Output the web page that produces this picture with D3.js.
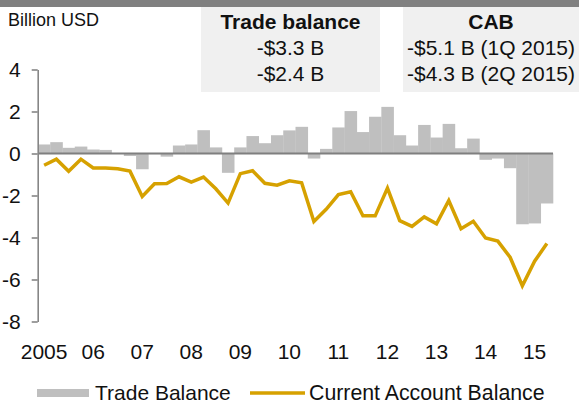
<!DOCTYPE html>
<html>
<head>
<meta charset="utf-8">
<script src="https://cdn.jsdelivr.net/npm/d3@7/dist/d3.min.js"></script>
<style>
  body { margin: 0; background: #fff; }
  svg { display: block; font-family: "Liberation Sans", Arial, sans-serif; }
</style>
</head>
<body>
<svg id="chart" width="579" height="405"></svg>
<script>
// quarterly data, 2005 Q1 .. 2015 Q2 (billion USD)
const years = ['2005', '06', '07', '08', '09', '10', '11', '12', '13', '14', '15']
const quarters = []
years.forEach((y, i) => {
    const n = i === years.length - 1 ? 2 : 4
    for (let q = 1; q <= n; q++) quarters.push(y + 'Q' + q)
})

const tradeBalance = [0.43, 0.54, 0.27, 0.33, 0.19, 0.17, 0.02, -0.12, -0.75, -0.03, -0.15,
    0.38, 0.43, 1.11, 0.29, -0.92, 0.29, 0.83, 0.49, 0.87, 1.10, 1.27, -0.24, 0.22,
    1.24, 2.02, 1.02, 1.75, 2.22, 0.87, 0.38, 1.36, 0.76, 1.41, 0.25, 0.71, -0.30,
    -0.24, -0.70, -3.37, -3.33, -2.38]

const currentAccount = [-0.56, -0.27, -0.85, -0.27, -0.69, -0.69, -0.73, -0.84, -2.05, -1.44,
    -1.43, -1.11, -1.36, -1.12, -1.68, -2.36, -0.96, -0.82, -1.42, -1.51, -1.30, -1.39,
    -3.24, -2.66, -1.96, -1.82, -2.97, -2.97, -1.65, -3.20, -3.47, -3.02, -3.35, -2.24,
    -3.58, -3.23, -4.02, -4.17, -4.94, -6.30, -5.13, -4.29]

const yTicks = [4, 2, 0, -2, -4, -6, -8]

const tradeBox = ['Trade balance', '-$3.3 B', '-$2.4 B']
const cabBox = ['CAB', '-$5.1 B (1Q 2015)', '-$4.3 B (2Q 2015)']

const legendItems = ['Trade Balance', 'Current Account Balance']

const barColor = '#bfbfbf'
const lineColor = '#d6a100'
const axisColor = '#868686'

const svg = d3.select('#chart')

// scales
const x = d3.scaleBand().domain(quarters).range([38, 553]).padding(0)
const y = d3.scaleLinear().domain([-8, 4]).range([321.5, 69.5])
const bw = x.bandwidth()

// top band
svg.append('rect')
    .attr('x', 0).attr('y', 0)
    .attr('width', 579).attr('height', 7)
    .attr('fill', '#808080')

// info boxes
const drawBox = (lines, x0, x1) => {
    svg.append('rect')
        .attr('x', x0).attr('y', 7)
        .attr('width', x1 - x0).attr('height', 85)
        .attr('fill', '#f0f0f0')
    svg.selectAll(null)
        .data(lines)
        .enter()
        .append('text')
        .attr('x', (x0 + x1) / 2)
        .attr('y', (d, i) => 28.5 + i * 26.3)
        .attr('text-anchor', 'middle')
        .attr('font-size', 21)
        .attr('font-weight', (d, i) => i === 0 ? 'bold' : 'normal')
        .attr('fill', '#111')
        .text(d => d)
}
drawBox(tradeBox, 201, 380)
drawBox(cabBox, 403, 579)

svg.append('text')
    .attr('x', 8).attr('y', 26)
    .attr('font-size', 18)
    .attr('fill', '#111')
    .text('Billion USD')

// bars
svg.selectAll('.bar')
    .data(tradeBalance)
    .enter()
    .append('rect')
    .attr('class', 'bar')
    .attr('x', (d, i) => x(quarters[i]))
    .attr('y', d => y(Math.max(0, d)))
    .attr('width', bw + 0.3)
    .attr('height', d => Math.abs(y(d) - y(0)))
    .attr('fill', barColor)

// zero line
svg.append('line')
    .attr('x1', 38).attr('x2', 553)
    .attr('y1', y(0)).attr('y2', y(0))
    .attr('stroke', '#7f7f7f')
    .attr('stroke-width', 2)

// y axis
const yAxis = svg.append('g')
    .attr('transform', 'translate(37.7,0)')
    .call(d3.axisLeft(y).tickValues(yTicks).tickSize(6).tickSizeOuter(0).tickPadding(11)
        .tickFormat(d3.format('d')))
yAxis.select('.domain').attr('stroke', axisColor).attr('stroke-width', 1.6)
yAxis.selectAll('.tick line').attr('stroke', axisColor).attr('stroke-width', 1.6)
yAxis.selectAll('.tick text')
    .attr('font-size', 21)
    .attr('font-family', '"Liberation Sans", Arial, sans-serif')
    .attr('fill', '#111')
    .text(d => d < 0 ? '-' + Math.abs(d) : d)

// current account line
const line = d3.line()
    .x((d, i) => x(quarters[i]) + bw / 2)
    .y(d => y(d))

svg.append('path')
    .datum(currentAccount)
    .attr('d', line)
    .attr('fill', 'none')
    .attr('stroke', lineColor)
    .attr('stroke-width', 3.5)
    .attr('stroke-linejoin', 'miter')

// year labels at first quarter of each year
svg.selectAll('.year')
    .data(years)
    .enter()
    .append('text')
    .attr('class', 'year')
    .attr('x', d => x(d + 'Q1') + bw / 2)
    .attr('y', 359)
    .attr('text-anchor', 'middle')
    .attr('font-size', 21)
    .attr('fill', '#111')
    .text(d => d)

// legend
const legend = svg.append('g')
legend.append('rect')
    .attr('x', 37).attr('y', 389)
    .attr('width', 52).attr('height', 8)
    .attr('fill', barColor)
legend.append('text')
    .attr('x', 95).attr('y', 400)
    .attr('font-size', 21)
    .attr('fill', '#111')
    .text(legendItems[0])
legend.append('line')
    .attr('x1', 250).attr('x2', 305)
    .attr('y1', 393).attr('y2', 393)
    .attr('stroke', lineColor)
    .attr('stroke-width', 3.5)
legend.append('text')
    .attr('x', 309).attr('y', 400)
    .attr('font-size', 21.3)
    .attr('fill', '#111')
    .text(legendItems[1])
</script>
</body>
</html>
